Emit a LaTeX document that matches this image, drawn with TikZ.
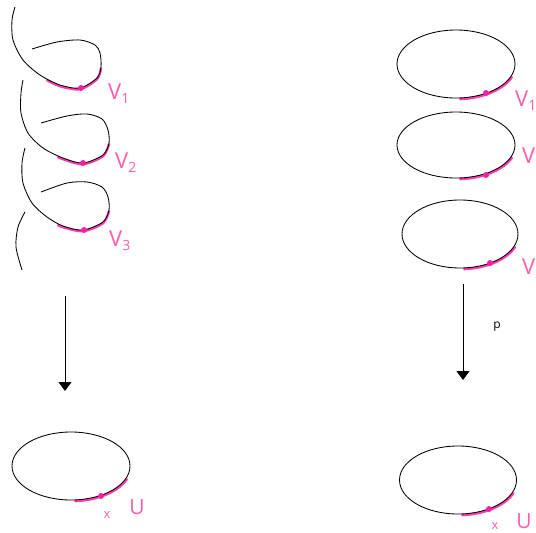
\documentclass[tikz,border=0pt]{standalone}
\usepackage{fontspec}
\setmainfont{Open Sans}
\usetikzlibrary{arrows.meta}
\definecolor{pk}{RGB}{255,92,172}
\definecolor{hlc}{RGB}{255,60,178}
\definecolor{mg}{RGB}{240,35,168}
\newcommand\lsub[1]{\raisebox{-4pt}{\fontsize{14}{14}\selectfont #1}}
\begin{document}
\begin{tikzpicture}[x=1pt,y=-1pt,
  curve/.style={black, line width=0.85pt},
  hl/.style={hlc, line width=2.4pt, line cap=round},
  dotm/.style={fill=mg, draw=none},
  lab/.style={pk, font=\fontsize{22}{22}\selectfont, inner sep=0pt},
  smalllab/.style={pk, font=\fontsize{13}{13}\selectfont, inner sep=0pt},
  plab/.style={black, font=\fontsize{12}{12}\selectfont, inner sep=0pt},
  arr/.style={-{Triangle[width=13pt,length=9pt]}, line width=0.9pt}
]
\useasboundingbox (0,0) rectangle (536,533);

% ---------- left: helix ----------
\begin{scope}[yshift=-1.2pt]
\draw[hl] plot[smooth] coordinates {(47,79) (60,85) (80,88) (97,78) (101,67)};
\draw[hl] plot[smooth] coordinates {(58,156) (63,158) (83,163) (103,155) (109,143)};
\draw[hl] plot[smooth] coordinates {(58,224) (63,226) (83,230) (103,222) (109,210)};
\end{scope}

\draw[curve] plot[smooth] coordinates {(15,7) (12,20) (13,40) (23,60) (40,75) (60,85) (80,88) (97,78) (101,67) (100,53) (95,45) (80,40) (57,42) (32,49)};
\draw[curve] plot[smooth] coordinates {(23,80) (21,93) (21,113) (28,133) (43,148) (63,158) (83,163) (103,155) (109,143) (108,130) (102,119) (87,114) (67,116) (41,123)};
\draw[curve] plot[smooth] coordinates {(25,148) (22,163) (23,183) (32,203) (47,217) (63,226) (83,230) (103,222) (109,210) (108,197) (102,187) (87,182) (67,183) (41,192)};
\draw[curve] plot[smooth] coordinates {(25,212) (18,227) (16,247) (22,270)};

\fill[dotm] (81,88) circle[radius=3];
\fill[dotm] (83,163) circle[radius=3];
\fill[dotm] (84,230) circle[radius=3];

\node[lab, anchor=base west] (lv1) at (108,99) {V\lsub{1}};
\node[lab, anchor=base west] (lv2) at (115,168) {V\lsub{2}};
\node[lab, anchor=base west] (lv3) at (109,246) {V\lsub{3}};

% left arrow
\coordinate (la1) at (65,296);
\coordinate (la2) at (65,391);
\draw[arr] (la1) -- (la2);

% bottom left circle
\coordinate (bl) at (71,466);
\draw[hl] plot[domain=22:86, samples=40] ({71+60.2*cos(\x)},{466+35.2*sin(\x)});
\draw[curve] (bl) ellipse[x radius=59, y radius=34];
\fill[dotm] (101,496) circle[radius=3];
\node[smalllab] (lx) at (107,515) {x};
\node[lab, font=\fontsize{21}{21}\selectfont] (lu) at (137,507) {U};

% ---------- right: stack of circles ----------
\foreach \cx/\cy/\rx/\ry in {456/64/59/34, 456/145/59/33, 460/234/58/34}{
  \draw[hl] plot[domain=22:86, samples=40] ({\cx+(\rx+1.2)*cos(\x)},{\cy+(\ry+1.2)*sin(\x)});
  \draw[curve] (\cx,\cy) ellipse[x radius=\rx, y radius=\ry];
}
\fill[dotm] (486,93) circle[radius=3];
\fill[dotm] (486,175) circle[radius=3];
\fill[dotm] (490,263) circle[radius=3];

\node[lab, anchor=base west] (rv1) at (515,106) {V\lsub{1}};
\node[lab, anchor=base west] (rv2) at (522,163) {V\lsub{2}};
\node[lab, anchor=base west] (rv3) at (522,274) {V\lsub{3}};

% right arrow
\coordinate (ra1) at (463,284);
\coordinate (ra2) at (463,380);
\draw[arr] (ra1) -- (ra2);
\node[plab] (p) at (497,327) {p};

% bottom right circle
\coordinate (br) at (458,480);
\draw[hl] plot[domain=22:86, samples=40] ({458+59.7*cos(\x)},{480+35.2*sin(\x)});
\draw[curve] (br) ellipse[x radius=58.5, y radius=34];
\fill[dotm] (489,509) circle[radius=3];
\node[smalllab] (rx) at (495,526) {x};
\node[lab, font=\fontsize{21}{21}\selectfont] (ru) at (524,521) {U};
\end{tikzpicture}
\end{document}
